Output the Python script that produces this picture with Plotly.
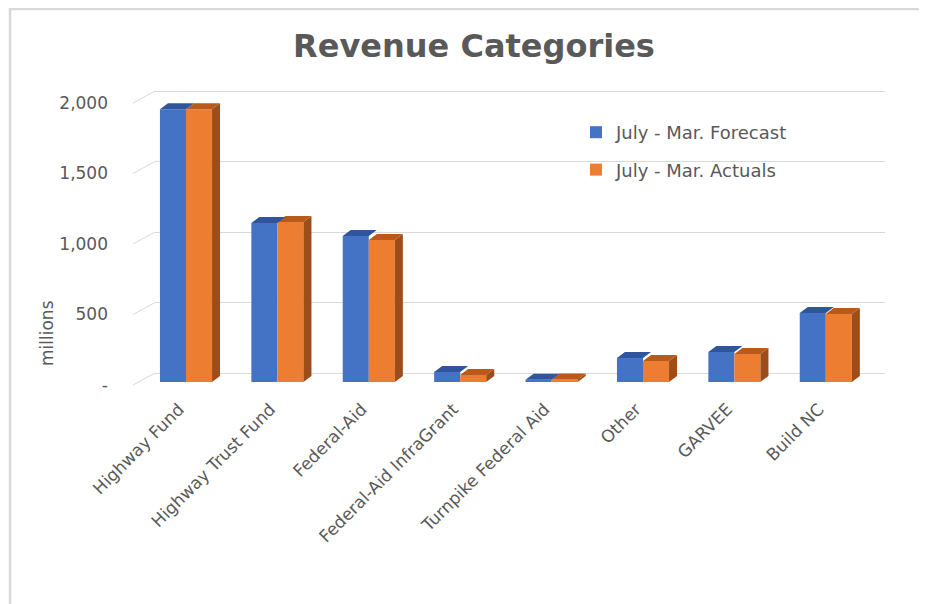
import plotly.graph_objects as go

# ---------------- data ----------------
categories = ["Highway Fund", "Highway Trust Fund", "Federal-Aid", "Federal-Aid InfraGrant",
              "Turnpike Federal Aid", "Other", "GARVEE", "Build NC"]
forecast = [1935, 1128, 1035, 71, 16, 170, 213, 489]
actuals = [1935, 1135, 1007, 50, 18, 149, 199, 482]
series_names = ["July - Mar. Forecast", "July - Mar. Actuals"]
ytick_vals = [0, 500, 1000, 1500, 2000]
ytick_text = ["-", "500", "1,000", "1,500", "2,000"]

# ---------------- style ----------------
BLUE, BLUE_TOP = "#4472C4", "#30559C"
ORANGE, ORANGE_TOP, ORANGE_SIDE = "#ED7D31", "#B85A1C", "#9C4D1A"
TXT = "#595959"
FONT = "DejaVu Sans"
GRID = "#D9D9D9"

W, H = 919, 596          # page has an 8px body margin
ML, MR, MT, MB = 147, 42, 71, 219
PLOT_W = W - ML - MR
PLOT_H = H - MT - MB
PX_PER_UNIT = 0.141
SPAN = PLOT_H / PX_PER_UNIT
BAR_SHIFT = 3 / PX_PER_UNIT      # bar floor 3px above front axis
BACK_SHIFT = 12 / PX_PER_UNIT    # back wall 12px above front axis
CAT_PX = 91.4
X0 = -31 / CAT_PX
XR = [X0, X0 + PLOT_W / CAT_PX]
BARGAP = 0.43
BW = (1 - BARGAP) / 2
DX = 8 / CAT_PX
DY = 6 / PX_PER_UNIT

y_front = [0, SPAN]
y_bars = [-BAR_SHIFT, SPAN - BAR_SHIFT]
y_back = [-BACK_SHIFT, SPAN - BACK_SHIFT]


def px_x(px):
    return (px - ML) / PLOT_W


def px_y(py):
    return (H - MB - py) / PLOT_H


xs = list(range(len(categories)))

fig = go.Figure()
fig.add_trace(go.Bar(x=xs, y=forecast, name=series_names[0], marker=dict(color=BLUE, line_width=0),
                     legendgroup="a", yaxis="y"))
fig.add_trace(go.Bar(x=xs, y=actuals, name=series_names[1], marker=dict(color=ORANGE, line_width=0),
                     legendgroup="b", yaxis="y"))


def faces(vals, left_off, kind):
    px, py = [], []
    for i, v in enumerate(vals):
        l = i + left_off
        r = l + BW
        if kind == "top":
            pts = [(l, v), (l + DX, v + DY), (r + DX, v + DY), (r, v)]
        else:
            pts = [(r, 0), (r + DX, DY), (r + DX, v + DY), (r, v)]
        for a, b in pts + [pts[0]]:
            px.append(a)
            py.append(b)
        px.append(None)
        py.append(None)
    return px, py


for vals, off, kind, col in [(actuals, 0, "side", ORANGE_SIDE), (actuals, 0, "top", ORANGE_TOP),
                             (forecast, -BW, "top", BLUE_TOP)]:
    fx, fy = faces(vals, off, kind)
    fig.add_trace(go.Scatter(x=fx, y=fy, mode="none", fill="toself", fillcolor=col,
                             showlegend=False, hoverinfo="skip", yaxis="y"))

# diagonal connectors from front labels to back wall
shapes = []
for v in ytick_vals:
    yf = (v - y_front[0]) / (y_front[1] - y_front[0])
    yb = (v - y_back[0]) / (y_back[1] - y_back[0])
    shapes.append(dict(type="line", xref="paper", yref="paper", x0=-22 / PLOT_W, x1=0, y0=yf, y1=yb,
                       line=dict(color=GRID, width=1)))
# chart border (left + top)
shapes.append(dict(type="line", xref="paper", yref="paper", x0=px_x(2), x1=px_x(2),
                   y0=px_y(H + 5), y1=px_y(0), line=dict(color="#D9D9D9", width=2.5)))
shapes.append(dict(type="line", xref="paper", yref="paper", x0=px_x(1), x1=px_x(W + 5),
                   y0=px_y(1), y1=px_y(1), line=dict(color="#D9D9D9", width=2.5)))

fig.update_layout(
    width=W, height=H,
    margin=dict(l=ML, r=MR, t=MT, b=MB, autoexpand=False),
    paper_bgcolor="white", plot_bgcolor="rgba(0,0,0,0)",
    barmode="group", bargap=BARGAP, bargroupgap=0,
    font=dict(family=FONT, color=TXT),
    title=dict(text="<b>Revenue Categories</b>", x=466 / W, xanchor="center", y=1 - 38 / H, yanchor="middle",
               font=dict(family=FONT, size=32, color=TXT)),
    xaxis=dict(range=XR, tickmode="array", tickvals=xs, ticktext=categories, tickangle=-45,
               showgrid=False, zeroline=False, showline=False, ticks="", automargin=False,
               ticklabelstandoff=10, ticklabelshift=-7,
               tickfont=dict(family=FONT, size=17, color=TXT)),
    yaxis=dict(range=y_bars, showgrid=False, zeroline=False, showticklabels=False, showline=False,
               automargin=False),
    yaxis2=dict(range=y_back, overlaying="y", tickmode="array", tickvals=ytick_vals, showgrid=True,
                gridcolor=GRID, gridwidth=1.2, zeroline=False, showticklabels=False, showline=False,
                automargin=False),
    yaxis3=dict(range=y_front, overlaying="y", tickmode="array", tickvals=ytick_vals, ticktext=ytick_text,
                showgrid=False, zeroline=False, showline=False, ticks="", ticklabelstandoff=46,
                automargin=False, tickfont=dict(family=FONT, size=17, color=TXT)),
    legend=dict(x=px_x(568), y=px_y(106), xanchor="left", yanchor="top",
                bgcolor="rgba(0,0,0,0)", font=dict(family=FONT, size=18, color=TXT),
                traceorder="grouped", tracegroupgap=11, itemwidth=30),
    annotations=[dict(text="millions", xref="paper", yref="paper", x=px_x(39),
                      y=px_y(325), textangle=-90, showarrow=False,
                      xanchor="center", yanchor="middle", font=dict(family=FONT, size=17, color=TXT))],
    shapes=shapes,
)
# dummy traces to activate overlay axes
fig.add_trace(go.Scatter(x=[None], y=[None], yaxis="y2", showlegend=False, hoverinfo="skip"))
fig.add_trace(go.Scatter(x=[None], y=[None], yaxis="y3", showlegend=False, hoverinfo="skip"))

fig.write_html("out.html")
